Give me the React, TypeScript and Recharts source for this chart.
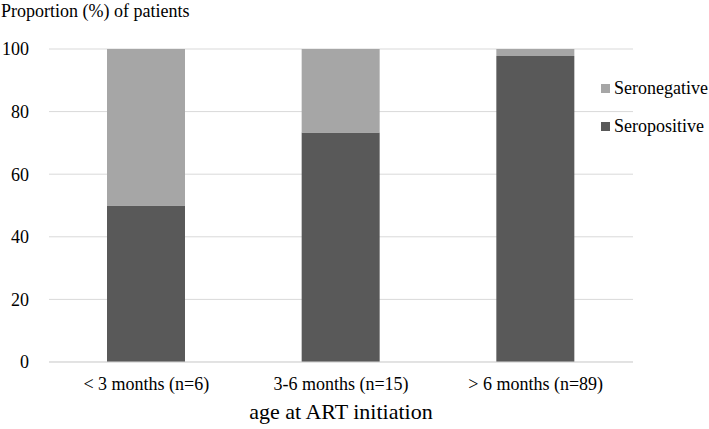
import { BarChart, Bar, XAxis, YAxis, CartesianGrid, Legend } from 'recharts';

const categories = ['< 3 months (n=6)', '3-6 months (n=15)', '> 6 months (n=89)'];
const seropositive = [50, 73.3, 97.8];
const seronegative = [50, 26.7, 2.2];
const yTicks = [0, 20, 40, 60, 80, 100];

const data = categories.map((c, i) => ({
  name: c,
  seropositive: seropositive[i],
  seronegative: seronegative[i],
}));

const FONT = 'Liberation Serif';

function LegendBox(props: any) {
  const items = [...(props.payload || [])];
  items.sort((a: any) => (a.value === 'Seronegative' ? -1 : 1));
  return (
    <div style={{ fontFamily: FONT, fontSize: 18, color: '#000' }}>
      {items.map((it: any) => (
        <div key={it.value} style={{ display: 'flex', alignItems: 'center', height: 38 }}>
          <span style={{ width: 9, height: 9, background: it.color, marginRight: 4, display: 'inline-block' }} />
          <span>{it.value}</span>
        </div>
      ))}
    </div>
  );
}

export default function App() {
  return (
    <div style={{ position: 'absolute', left: 0, top: 0, width: 709, height: 429, background: '#fff', fontFamily: FONT }}>
      <div style={{ position: 'absolute', left: 1, top: 0, fontFamily: FONT, fontSize: 18, color: '#000', lineHeight: '22px' }}>
        Proportion (%) of patients
      </div>
      <BarChart width={709} height={429} data={data} margin={{ top: 49, right: 76, left: 0, bottom: 0 }} barSize={78} style={{ fontFamily: FONT }}>
        <CartesianGrid vertical={false} stroke="#d9d9d9" />
        <XAxis
          dataKey="name"
          height={67}
          axisLine={{ stroke: '#d9d9d9' }}
          tickLine={false}
          tickMargin={9}
          tick={{ fill: '#000', fontSize: 18, fontFamily: FONT }}
          label={{ value: 'age at ART initiation', position: 'insideBottom', offset: 10, fill: '#000', fontSize: 22, fontFamily: FONT }}
        />
        <YAxis
          width={49}
          domain={[0, 100]}
          ticks={yTicks}
          axisLine={false}
          tickLine={false}
          tickMargin={14}
          tick={{ fill: '#000', fontSize: 18, fontFamily: FONT }}
        />
        <Legend
          layout="vertical"
          verticalAlign="middle"
          align="center"
          content={LegendBox}
          wrapperStyle={{ position: 'absolute', left: 601, top: 69, width: 108 }}
        />
        <Bar dataKey="seropositive" name="Seropositive" stackId="a" fill="#595959" isAnimationActive={false} />
        <Bar dataKey="seronegative" name="Seronegative" stackId="a" fill="#a6a6a6" isAnimationActive={false} />
      </BarChart>
    </div>
  );
}
